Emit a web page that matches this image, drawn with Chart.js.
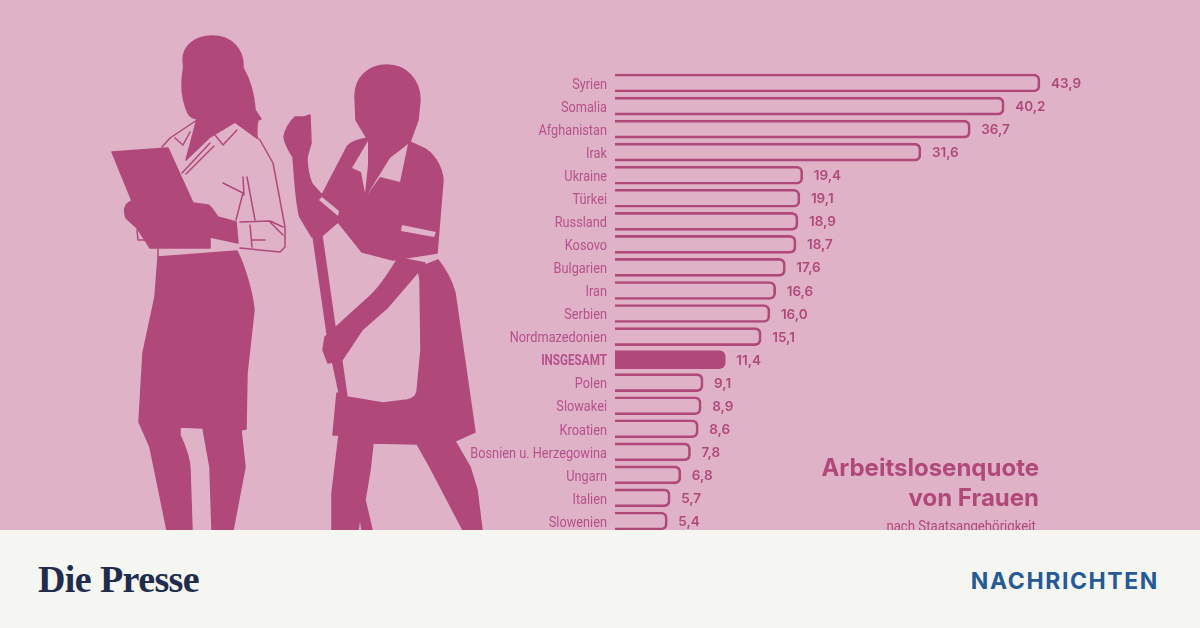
<!DOCTYPE html>
<html lang="de">
<head>
<meta charset="utf-8">
<title>Arbeitslosenquote von Frauen</title>
<script src="https://cdn.jsdelivr.net/npm/chart.js@4"></script>
<style>
  html, body { margin: 0; padding: 0; }
  body { width: 1200px; height: 628px; overflow: hidden; position: relative; background: #DFB2C7; }
  #art, #chart { position: absolute; left: 0; top: 0; }
  .ttl { position: absolute; right: 161px; color: #B0497A; text-align: right; white-space: nowrap; }
  #t1 { top: 453px; font: 700 24px Inter, sans-serif; }
  #t2 { top: 483px; font: 700 24px Inter, sans-serif; }
  #t3 { top: 517px; right: 164px; font: 15px Roboto, sans-serif; transform: scaleX(0.88); transform-origin: right center; }
  #foot { position: absolute; left: 0; top: 530px; width: 1200px; height: 98px; background: #F5F5F2; z-index: 5; }
  #logo { position: absolute; left: 38px; top: 27px; font: 700 38px "Liberation Serif", serif; color: #1F2C4C; letter-spacing: -0.6px; }
  #sect { position: absolute; right: 41px; top: 37px; font: 700 23px Inter, sans-serif; color: #255A96; letter-spacing: 1.6px; }
</style>
</head>
<body>
<svg id="art" width="1200" height="530" viewBox="0 0 1200 530">
  <!-- left figure -->
  <g fill="#B0497A" stroke="#B0497A" stroke-width="1.5" stroke-linejoin="round">
    <path d="M212 36 C195 36 183 46 183 60 C184 66 184 68 183 72 C181 85 182 100 188 113 C191 118 194 118 197 119 L186 160 L210 137 L235 122 L257 138 C257 130 256 126 258 120 L261 119 L255 110 C254 95 250 80 243 68 C244 50 232 36 212 36 Z"/>
    <path d="M112 152 L168 148 L193 203 L208 205 C213 208 215 214 218 217 L236 222 L238 243 L210 237 L210 248 L150 248 L147 243 L137 228 L126 218 C124 212 124 206 128 203 L132 201 Z"/>
    <path d="M158 257 L237 251 C244 265 252 290 254 310 L247 373 L246 429 L241 430 L245 467 L233 530 L212 530 L210 467 L203 428 L180 427 L180 435 C186 448 190 460 190 470 L192 530 L167 530 L150 447 L139 422 L143 353 L155 297 Z"/>
  </g>
  <g fill="none" stroke="#B0497A" stroke-width="1.5" stroke-linejoin="round" stroke-linecap="round">
    <path d="M235 122 L260 140 L273 163 L285 227 L285 247 L280 252 L240 248"/>
    <path d="M197 120 L170 138 L162 147"/>
    <path d="M215 135 L223 145 L237 130 M175 138 L183 145 L190 132"/>
    <path d="M182 173 L210 143 M186 174 L214 146"/>
    <path d="M223 183 L243 193 L236 220 M243 177 L244 195 M247 177 L255 220"/>
    <path d="M240 222 L270 221 L283 227 M250 225 L252 247 M252 240 L265 240 M270 222 L283 235"/>
    <path d="M137 230 L138 240 L147 240 M158 249 L158 257"/>
  </g>
  <!-- right figure -->
  <g fill="#B0497A" stroke="#B0497A" stroke-width="1.5" stroke-linejoin="round">
    <path d="M387 65 C368 65 355 78 355 96 L356 120 L367 138 C358 140 350 142 347 147 L322 195 L312 184 C308 175 307 165 307 157 L311 143 L310 115 L304 117 L295 117 C290 122 285 130 284 137 C285 145 290 152 293 157 C295 180 296 205 300 217 L312 237 L323 235 L338 222 L362 252 L393 260 L437 253 L443 180 C442 165 432 152 423 148 L410 142 L418 120 L420 100 C420 80 406 65 387 65 Z"/>
    <path d="M313 236 L322 236 L335 327 L342 362 L347 397 L340 397 L328 340 Z"/>
    <path d="M397 260 C388 275 378 290 368 298 L335 328 L325 337 L323 350 L328 363 L342 360 L362 330 L387 308 L418 272 L425 263 L400 258 Z"/>
    <path d="M418 268 L438 260 C446 270 452 282 455 293 L475 432 L455 441 L470 467 L477 490 L482 530 L463 530 L430 467 L417 444 L373 443 L370 470 L365 500 L372 530 L362 530 L360 517 L358 530 L332 530 L332 493 L339 435 L333 435 L337 393 L347 397 L383 403 L407 400 C413 399 416 396 417 392 L421 350 L420 280 Z"/>
  </g>
  <g fill="#DFB2C7">
    <path d="M368 141 L352 168 L361 172 L365 193 L368 165 Z"/>
    <path d="M367 195 L390 158 L408 144 L400 182 L380 177 Z"/>
    <path d="M402 225 L436 232 L434 237 L401 231 Z"/>
    <path d="M322 197 L339 211 L338 216 L319 200 Z"/>
  </g>
</svg>

<canvas id="chart" width="1200" height="540"></canvas>

<div class="ttl" id="t1">Arbeitslosenquote</div>
<div class="ttl" id="t2">von Frauen</div>
<div class="ttl" id="t3">nach Staatsangehörigkeit</div>

<div id="foot">
  <div id="logo">Die Presse</div>
  <div id="sect">NACHRICHTEN</div>
</div>

<script>
const countries = ["Syrien", "Somalia", "Afghanistan", "Irak", "Ukraine", "Türkei", "Russland", "Kosovo",
  "Bulgarien", "Iran", "Serbien", "Nordmazedonien", "INSGESAMT", "Polen", "Slowakei", "Kroatien",
  "Bosnien u. Herzegowina", "Ungarn", "Italien", "Slowenien"];
const rates = [43.9, 40.2, 36.7, 31.6, 19.4, 19.1, 18.9, 18.7, 17.6, 16.6, 16.0, 15.1, 11.4, 9.1, 8.9, 8.6, 7.8, 6.8, 5.7, 5.4];
const totalLabel = "INSGESAMT";

const C = { bar: "#B0497A", label: "#B5528A" };

new Chart(document.getElementById("chart").getContext("2d"), {
  type: "bar",
  data: {
    labels: countries,
    datasets: [{
      data: rates,
      backgroundColor: countries.map(c => c === totalLabel ? C.bar : "rgba(0,0,0,0)"),
      borderColor: C.bar,
      borderWidth: 2,
      borderSkipped: "left",
      borderRadius: { topRight: 6, bottomRight: 6 },
      barThickness: 18
    }]
  },
  options: {
    indexAxis: "y",
    responsive: false,
    animation: false,
    layout: { padding: { top: 71.5, bottom: 7.5, left: 0, right: 4.2 } },
    plugins: { legend: { display: false }, tooltip: { enabled: false } },
    scales: {
      x: { display: false, min: 0, max: 60 },
      y: {
        afterFit(axis) { axis.width = 615; },
        grid: { display: false, drawTicks: false },
        border: { display: false },
        ticks: { display: false }
      }
    }
  },
  plugins: [{
    id: "rowLabels",
    afterDatasetsDraw(chart) {
      const { ctx, scales: { x, y } } = chart;
      ctx.save();
      ctx.textBaseline = "middle";

      // no condensed face installed, so the country names get squeezed
      ctx.fillStyle = C.label;
      ctx.textAlign = "right";
      countries.forEach((name, i) => {
        const isTotal = name === totalLabel;
        ctx.save();
        ctx.translate(607, y.getPixelForValue(i) + 2);
        ctx.scale(isTotal ? 0.78 : 0.85, 1);
        ctx.font = (isTotal ? "bold " : "") + "15px Roboto, sans-serif";
        ctx.fillText(name, 0, 0);
        ctx.restore();
      });

      ctx.fillStyle = C.bar;
      ctx.textAlign = "left";
      ctx.font = "600 13.5px Inter, sans-serif";
      rates.forEach((v, i) => {
        ctx.fillText(v.toFixed(1).replace(".", ","), x.getPixelForValue(v) + 11, y.getPixelForValue(i) + 1);
      });
      ctx.restore();
    }
  }]
});
</script>
</body>
</html>
